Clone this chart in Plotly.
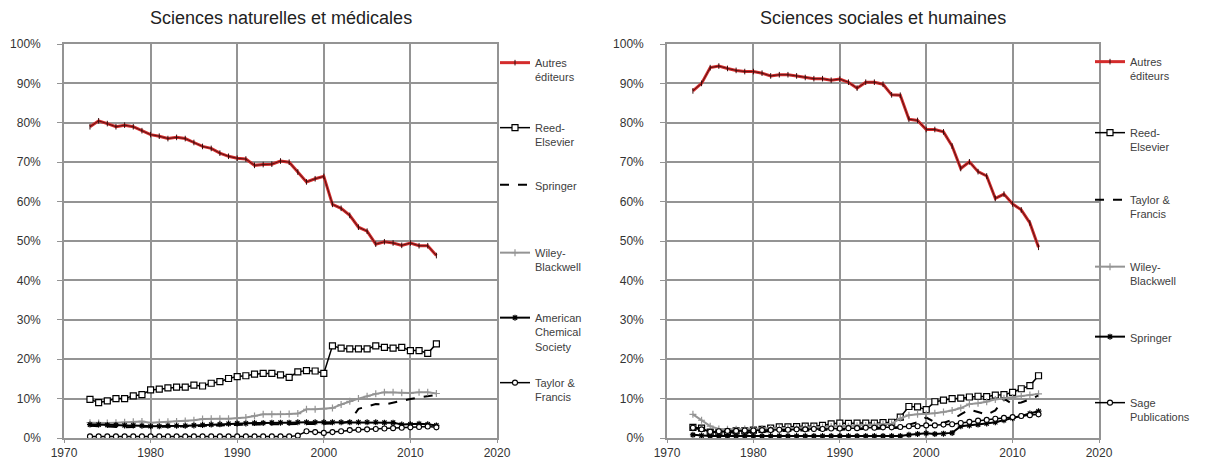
import plotly.graph_objects as go

years = list(range(1973, 2014))

# ---- Sciences naturelles et médicales ----
nat_autres = [79.0, 80.5, 79.8, 79.0, 79.4, 79.0, 78.0, 77.0, 76.6, 76.0, 76.3, 76.0, 75.0, 74.0,
              73.5, 72.3, 71.5, 71.0, 70.8, 69.2, 69.4, 69.5, 70.3, 70.0, 67.5, 65.0, 65.8, 66.4,
              59.3, 58.3, 56.5, 53.5, 52.5, 49.2, 49.8, 49.5, 48.9, 49.5, 48.8, 48.8, 46.3]
nat_reed = [9.8, 9.0, 9.4, 10.0, 10.0, 10.7, 11.0, 12.2, 12.4, 12.7, 12.9, 12.9, 13.4, 13.2,
            13.9, 14.3, 15.1, 15.6, 15.8, 16.2, 16.4, 16.4, 16.0, 15.4, 16.8, 17.1, 17.0, 16.4,
            23.4, 22.8, 22.6, 22.6, 22.6, 23.4, 23.0, 22.8, 23.0, 22.2, 22.2, 21.5, 23.9]
nat_springer = [3.1, 3.0, 2.9, 2.8, 2.7, 2.8, 2.8, 2.8, 2.8, 2.9, 2.9, 3.0, 3.0, 3.0,
                3.1, 3.2, 3.3, 3.4, 3.4, 3.4, 3.5, 3.5, 3.5, 3.5, 3.5, 3.6, 3.6, 3.6,
                3.7, 3.8, 4.2, 7.4, 8.0, 8.6, 8.5, 9.0, 9.5, 9.9, 10.3, 10.6, 10.9]
nat_wiley = [3.9, 3.8, 3.8, 3.9, 4.0, 4.1, 4.2, 3.9, 4.0, 4.1, 4.2, 4.3, 4.5, 4.8,
             4.9, 4.9, 4.9, 5.0, 5.2, 5.6, 6.0, 6.0, 6.0, 6.1, 6.2, 7.3, 7.3, 7.4,
             7.6, 8.5, 9.3, 10.0, 10.6, 11.2, 11.6, 11.6, 11.5, 11.4, 11.6, 11.6, 11.3]
nat_acs = [3.4, 3.4, 3.3, 3.3, 3.2, 3.2, 3.1, 3.0, 3.0, 3.1, 3.1, 3.1, 3.2, 3.3,
           3.4, 3.5, 3.6, 3.7, 3.7, 3.8, 3.8, 3.9, 3.9, 3.9, 4.0, 4.0, 4.0, 4.0,
           4.0, 4.0, 4.0, 4.0, 4.0, 4.0, 3.9, 3.9, 3.4, 3.5, 3.6, 3.5, 3.2]
nat_tf = [0.4, 0.4, 0.4, 0.4, 0.4, 0.4, 0.4, 0.4, 0.4, 0.4, 0.4, 0.4, 0.4, 0.4,
          0.4, 0.4, 0.4, 0.4, 0.4, 0.4, 0.4, 0.4, 0.4, 0.4, 0.6, 1.7, 1.5, 1.3,
          1.5, 1.7, 2.0, 2.1, 2.2, 2.3, 2.4, 2.5, 2.6, 2.7, 2.8, 2.9, 2.7]

# ---- Sciences sociales et humaines ----
soc_autres = [88.1, 90.0, 94.0, 94.4, 93.8, 93.3, 93.0, 93.0, 92.6, 91.9, 92.2, 92.2, 91.9, 91.5,
              91.2, 91.2, 90.8, 91.1, 90.3, 88.8, 90.3, 90.3, 89.8, 87.1, 87.0, 80.9, 80.6, 78.3,
              78.3, 77.7, 74.1, 68.4, 70.1, 67.6, 66.5, 60.8, 61.9, 59.4, 57.9, 54.6, 48.4]
soc_reed = [2.7, 2.5, 1.5, 1.5, 1.6, 1.8, 1.8, 2.0, 2.2, 2.5, 2.8, 2.8, 2.9, 3.0,
            3.0, 3.2, 3.6, 3.8, 3.7, 3.8, 3.8, 3.8, 3.9, 4.0, 5.3, 8.0, 7.9, 7.2,
            9.2, 9.6, 10.0, 10.1, 10.4, 10.6, 10.5, 10.9, 11.0, 11.6, 12.5, 13.3, 15.8]
soc_tf = [2.5, 2.3, 1.6, 1.4, 1.4, 1.4, 1.5, 1.5, 1.6, 1.7, 1.8, 1.8, 1.9, 1.9,
          2.0, 2.0, 2.1, 2.1, 2.2, 2.2, 2.3, 2.3, 2.4, 2.4, 2.6, 3.4, 4.0, 5.2,
          4.0, 3.8, 4.6, 6.0, 7.2, 6.6, 5.9, 7.0, 10.0, 8.6, 9.0, 9.8, 10.8]
soc_wiley = [6.0, 4.5, 3.0, 2.3, 2.2, 2.2, 2.3, 2.3, 2.4, 2.5, 2.5, 2.6, 2.6, 2.7,
             2.7, 2.8, 2.9, 3.0, 3.0, 3.1, 3.2, 3.3, 3.4, 3.6, 5.0, 5.8, 6.0, 6.1,
             6.3, 6.6, 7.0, 7.6, 8.6, 8.8, 9.2, 9.8, 10.1, 10.3, 10.6, 10.9, 11.2]
soc_springer = [0.8, 0.6, 0.5, 0.5, 0.5, 0.5, 0.5, 0.5, 0.5, 0.5, 0.5, 0.5, 0.5, 0.5,
                0.5, 0.5, 0.5, 0.5, 0.5, 0.5, 0.5, 0.5, 0.5, 0.5, 0.5, 0.8, 1.0, 1.2,
                1.0, 1.1, 1.3, 3.0, 3.2, 3.4, 3.7, 4.0, 4.5, 5.0, 5.6, 6.2, 6.8]
soc_sage = [2.6, 2.2, 1.6, 1.7, 1.8, 1.8, 1.9, 1.9, 2.0, 2.0, 2.1, 2.1, 2.2, 2.2,
            2.3, 2.3, 2.4, 2.4, 2.5, 2.5, 2.6, 2.6, 2.7, 2.7, 2.8, 3.0, 3.0, 3.2,
            3.2, 3.4, 3.5, 3.8, 4.1, 4.4, 4.6, 4.9, 5.1, 5.3, 5.6, 5.8, 6.0]

titles = ["Sciences naturelles et médicales", "Sciences sociales et humaines"]
x_ticks = [1970, 1980, 1990, 2000, 2010, 2020]

FONT = "Liberation Sans, Arial, sans-serif"
RED = "#d42c2c"
GRAY = "#949494"

STYLES = {
    "autres": dict(mode="lines+markers", line=dict(color=RED, width=3),
                   marker=dict(symbol="line-ns", size=4, line=dict(color="#3a0a0a", width=1))),
    "square": dict(mode="lines+markers", line=dict(color="black", width=1.5),
                   marker=dict(symbol="square", size=6, color="white", line=dict(color="black", width=1.2))),
    "dash": dict(mode="lines", line=dict(color="black", width=2, dash="dash")),
    "wiley": dict(mode="lines+markers", line=dict(color=GRAY, width=2),
                  marker=dict(symbol="cross-thin", size=5, line=dict(color=GRAY, width=1.2))),
    "star": dict(mode="lines+markers", line=dict(color="black", width=2),
                 marker=dict(symbol="asterisk", size=5, line=dict(color="black", width=1.2))),
    "circle": dict(mode="lines+markers", line=dict(color="black", width=1.5),
                   marker=dict(symbol="circle", size=5, color="white", line=dict(color="black", width=1.1))),
}

left_series = [
    ("Autres<br>éditeurs", nat_autres, "autres"),
    ("Reed-<br>Elsevier", nat_reed, "square"),
    ("Springer", nat_springer, "dash"),
    ("Wiley-<br>Blackwell", nat_wiley, "wiley"),
    ("American<br>Chemical<br>Society", nat_acs, "star"),
    ("Taylor &<br>Francis", nat_tf, "circle"),
]
right_series = [
    ("Autres<br>éditeurs", soc_autres, "autres"),
    ("Reed-<br>Elsevier", soc_reed, "square"),
    ("Taylor &<br>Francis", soc_tf, "dash"),
    ("Wiley-<br>Blackwell", soc_wiley, "wiley"),
    ("Springer", soc_springer, "star"),
    ("Sage<br>Publications", soc_sage, "circle"),
]

W, H = 1209, 469
plot_top, plot_bot = 44, 438
left_x = (64, 497)
right_x = (667, 1099)

fig = go.Figure()

# legend item positions (pixels from top) for the symbol line
left_leg_y = [63, 128, 185, 253, 318, 383]
right_leg_y = [62, 133, 200, 267, 337, 403]
left_leg_x = 495
right_leg_x = 1090

leg_index = 0
layout_legends = {}
for side, series, leg_ys, leg_x in (("x", left_series, left_leg_y, left_leg_x),
                                     ("x2", right_series, right_leg_y, right_leg_x)):
    yaxis = "y" if side == "x" else "y2"
    for (name, vals, sty), ly in zip(series, leg_ys):
        leg_index += 1
        lname = "legend" if leg_index == 1 else f"legend{leg_index}"
        st = STYLES[sty]
        fig.add_trace(go.Scatter(x=years, y=[v / 100 for v in vals], name=name,
                                 xaxis=side, yaxis=yaxis, legend=lname, **st))
        layout_legends[lname] = dict(
            x=leg_x / W, xanchor="left", y=1 - (ly - 14) / H, yanchor="top",
            bgcolor="rgba(0,0,0,0)", borderwidth=0, valign="top",
            itemwidth=30, font=dict(family=FONT, size=11, color="#404040"),
            tracegroupgap=0,
        )
    # dark core over the red "Autres" line
    name, vals, sty = series[0]
    fig.add_trace(go.Scatter(x=years, y=[v / 100 for v in vals], mode="lines",
                             line=dict(color="#3a0c0c", width=0.8), xaxis=side, yaxis=yaxis,
                             showlegend=False, hoverinfo="skip"))

axis_common = dict(showgrid=True, gridcolor=GRAY, gridwidth=1.6, showline=True,
                   linecolor=GRAY, linewidth=1.6, mirror=True, ticks="outside",
                   tickcolor=GRAY, zeroline=False, automargin=False,
                   tickfont=dict(family=FONT, size=12, color="#333333"))

fig.update_layout(
    width=W, height=H, margin=dict(l=0, r=0, t=0, b=0, autoexpand=False),
    paper_bgcolor="white", plot_bgcolor="white",
    xaxis=dict(domain=[left_x[0] / W, left_x[1] / W], range=[1970, 2020], tickvals=x_ticks,
               anchor="y", ticklen=3, **axis_common),
    yaxis=dict(domain=[1 - plot_bot / H, 1 - plot_top / H], range=[0, 1], dtick=0.1,
               tickformat=".0%", anchor="x", ticklen=5, ticklabelstandoff=14, **axis_common),
    xaxis2=dict(domain=[right_x[0] / W, right_x[1] / W], range=[1970, 2020], tickvals=x_ticks,
                anchor="y2", ticklen=3, **axis_common),
    yaxis2=dict(domain=[1 - plot_bot / H, 1 - plot_top / H], range=[0, 1], dtick=0.1,
                tickformat=".0%", anchor="x2", ticklen=5, ticklabelstandoff=14, **axis_common),
    annotations=[
        dict(text=titles[0], x=(left_x[0] + left_x[1]) / 2 / W, y=1 - 18 / H,
             xref="paper", yref="paper", showarrow=False, xanchor="center", yanchor="middle",
             font=dict(family=FONT, size=18, color="#222222")),
        dict(text=titles[1], x=(right_x[0] + right_x[1]) / 2 / W, y=1 - 18 / H,
             xref="paper", yref="paper", showarrow=False, xanchor="center", yanchor="middle",
             font=dict(family=FONT, size=18, color="#222222")),
    ],
    **layout_legends,
)

fig.write_html("out.html", config={"displayModeBar": False},
               post_script="document.body.style.margin='0px';")
